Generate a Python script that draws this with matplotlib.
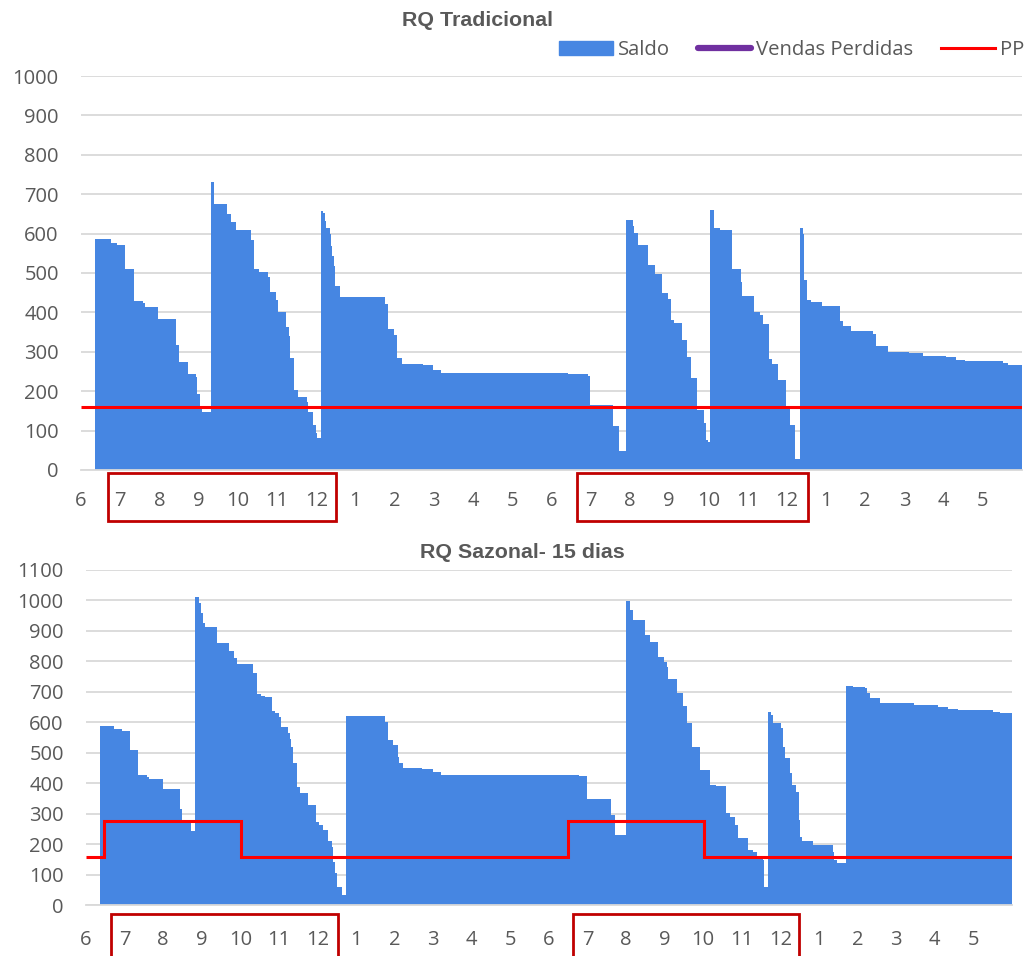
import matplotlib.pyplot as plt
import matplotlib.transforms as mtransforms
from matplotlib.patches import Rectangle
from matplotlib.lines import Line2D
import numpy as np

# Dias desde o início (jun/ano 1) em que o saldo muda, e o nível do saldo a partir desse dia
dias_trad = [11, 23, 28, 34, 41, 48, 50, 60, 74, 76, 83, 89, 90, 92, 94,
             101, 103, 113, 116, 120, 132, 134, 138, 145, 147, 151, 153, 159, 161, 162,
             165, 168, 175, 176, 180, 182, 183,
             186, 188, 189, 190, 193, 194, 195, 196, 197, 201, 236, 238, 243, 245, 249,
             265, 273, 279, 378, 393, 395, 413, 417,
             423, 428, 429, 432, 440, 445, 451, 455, 458, 460, 466, 470, 473, 478, 483,
             485, 486,
             488, 491, 496, 505, 512, 513, 522, 527, 529, 534, 536, 541, 547, 550, 554,
             558, 560, 561, 563, 566, 575, 589, 591, 597, 614, 617, 626, 642, 653, 671,
             679, 686, 715, 719, 730]
saldo_trad = [587, 576, 571, 510, 429, 424, 414, 383, 317, 273, 244, 236, 193, 156, 146,
              730, 676, 649, 629, 608, 583, 510, 502, 491, 451, 432, 402, 364, 341, 283,
              203, 186, 173, 146, 115, 93, 82,
              658, 653, 631, 615, 598, 568, 542, 517, 466, 439, 422, 359, 343, 283, 270,
              266, 254, 245, 243, 239, 166, 112, 47,
              634, 619, 602, 570, 521, 498, 449, 434, 381, 373, 331, 288, 233, 153, 119,
              76, 72,
              659, 613, 610, 510, 476, 441, 400, 394, 371, 281, 270, 229, 163, 115, 27,
              613, 600, 483, 432, 427, 415, 377, 366, 354, 346, 315, 300, 298, 290, 286,
              280, 276, 271, 266]

dias_saz = [11, 22, 28, 35, 41, 48, 50, 61, 74, 76, 83,
            86, 89, 91, 92, 94, 103, 113, 117, 119, 132, 135, 138, 141, 147, 149, 152,
            154, 159, 161, 162, 163, 166, 169, 175, 181, 184, 187, 191, 194, 195, 196,
            198, 202,
            205, 236, 238, 242, 246, 247, 250, 265, 274, 280, 389, 395, 414, 417,
            426, 429, 431, 441, 445, 451, 456, 458, 459, 466, 471, 474, 478, 484, 492,
            497, 505, 508, 512, 514, 522, 526, 529, 534, 535,
            538, 540, 542, 548, 550, 551, 555, 557, 560, 562, 563, 565, 573, 589, 590,
            592,
            599, 605, 614, 616, 618, 626, 644, 653, 672, 680, 688, 715, 721, 730]
saldo_saz = [587, 577, 571, 510, 428, 422, 414, 381, 315, 274, 245,
             1012, 993, 960, 927, 914, 860, 833, 811, 791, 763, 692, 687, 682, 638, 632,
             617, 584, 564, 545, 520, 468, 387, 369, 329, 274, 263, 247, 212, 190, 143,
             105, 59, 34,
             621, 602, 542, 526, 488, 466, 451, 448, 437, 426, 425, 349, 296, 231,
             999, 969, 936, 888, 863, 814, 799, 783, 741, 698, 654, 599, 518, 444, 395,
             391, 304, 289, 262, 220, 181, 176, 154, 149, 61,
             635, 624, 597, 581, 520, 482, 433, 395, 373, 280, 225, 212, 198, 176, 149,
             138,
             720, 717, 712, 696, 681, 665, 663, 656, 652, 644, 641, 635, 631]

# Ponto de pedido (PP)
pp_trad_dias = [0, 730]
pp_trad = [160]
pp_saz_dias = [0, 14, 122, 380, 487, 730]
pp_saz = [160, 277, 160, 277, 160]

# Rótulos de mês no eixo x (24 meses a partir de junho)
meses = [6, 7, 8, 9, 10, 11, 12, 1, 2, 3, 4, 5, 6, 7, 8, 9, 10, 11, 12, 1, 2, 3, 4, 5]
# Períodos de alta temporada destacados (jul-dez)
destaques_trad = [(21, 198), (385, 564)]
destaques_saz = [(20, 199), (384, 562)]

AZUL = '#4686E2'
CINZA = '#595959'
GRADE = '#D9D9D9'
TOTAL_DIAS = 730

plt.rcParams['font.family'] = ['Open Sans', 'DejaVu Sans']

fig = plt.figure(figsize=(10.24, 9.56), dpi=100)
ax1 = fig.add_axes([0.0791, 0.5084, 0.919, 0.4121])
ax2 = fig.add_axes([0.0840, 0.0530, 0.904, 0.3508])


def desenha(ax, dias, saldo, pp_dias, pp, ymax, destaques, pad_x, folga_caixa):
    ax.stairs(saldo, dias, fill=True, color=AZUL, lw=0, zorder=2)
    ax.stairs(pp, pp_dias, baseline=None, color='#FF0000', lw=2.2, zorder=3)

    ax.set_xlim(0, TOTAL_DIAS)
    ax.set_ylim(0, ymax)
    ax.set_yticks(np.arange(0, ymax + 1, 100))
    ax.set_xticks(np.arange(len(meses)) * TOTAL_DIAS / 24)
    ax.set_xticklabels(meses)
    ax.grid(axis='y', color=GRADE, lw=1.3, zorder=0)
    ax.set_axisbelow(True)
    for lado in ['top', 'right', 'left']:
        ax.spines[lado].set_visible(False)
    ax.spines['bottom'].set_color(GRADE)
    ax.spines['bottom'].set_linewidth(1.3)
    ax.tick_params(axis='both', length=0, labelsize=14.5, labelcolor=CINZA)
    ax.tick_params(axis='y', pad=16)
    ax.tick_params(axis='x', pad=pad_x)

    # Caixas vermelhas em volta dos meses de jul a dez
    trans = mtransforms.blended_transform_factory(ax.transData, ax.transAxes)
    alt_ax = ax.get_position().height * 956
    alt = 48 / alt_ax
    topo = -folga_caixa / alt_ax
    for ini, fim in destaques:
        ax.add_patch(Rectangle((ini, topo - alt), fim - ini, alt, transform=trans,
                               fill=False, ec='#C00000', lw=2, clip_on=False))


desenha(ax1, dias_trad, saldo_trad, pp_trad_dias, pp_trad, 1000, destaques_trad, 15.5, 3.5)
desenha(ax2, dias_saz, saldo_saz, pp_saz_dias, pp_saz, 1100, destaques_saz, 17.5, 9)

fig.text(478 / 1024, 1 - 21 / 956, 'RQ Tradicional', ha='center', va='center',
         fontsize=15.4, fontweight='bold', color=CINZA, family='Liberation Sans')
fig.text(522 / 1024, 1 - 552 / 956, 'RQ Sazonal- 15 dias', ha='center', va='center',
         fontsize=15.4, fontweight='bold', color=CINZA, family='Liberation Sans')

handles = [Rectangle((0, 0), 1, 1, color=AZUL),
           Line2D([0], [0], color='#7030A0', lw=4.5, solid_capstyle='round'),
           Line2D([0], [0], color='#FF0000', lw=2.2)]
fig.legend(handles, ['Saldo', 'Vendas Perdidas', 'PP'], ncol=3, frameon=False,
           loc='center right', bbox_to_anchor=(1.0, 1 - 50 / 956),
           fontsize=14.6, labelcolor=CINZA, handlelength=2.65, handleheight=0.7,
           handletextpad=0.25, columnspacing=1.35, borderaxespad=0, borderpad=0)

fig.savefig('out.png', dpi=100)
